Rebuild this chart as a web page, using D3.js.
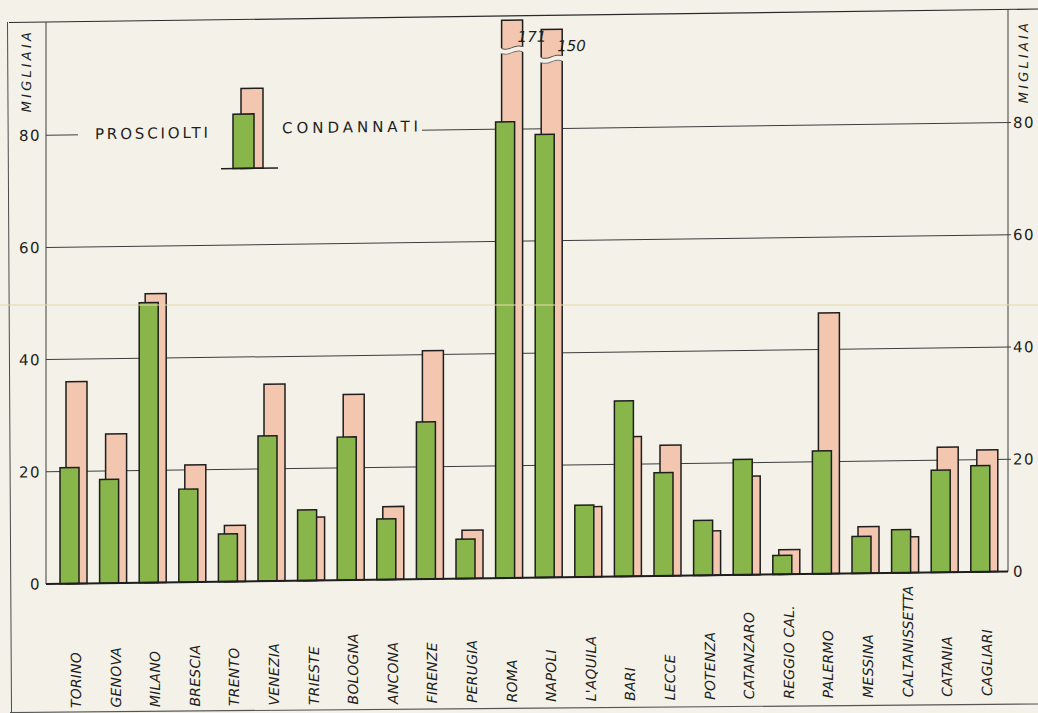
<!DOCTYPE html>
<html>
<head>
<meta charset="utf-8">
<script src="https://cdn.jsdelivr.net/npm/d3@7"></script>
<style>
  html, body { margin: 0; padding: 0; background: #f4f2e8; }
  svg { display: block; }
</style>
</head>
<body>
<svg id="chart" width="1038" height="713"></svg>
<script>
// Imputati prosciolti e condannati per distretto di corte d'appello (migliaia)
const cities = ["TORINO", "GENOVA", "MILANO", "BRESCIA", "TRENTO", "VENEZIA", "TRIESTE",
  "BOLOGNA", "ANCONA", "FIRENZE", "PERUGIA", "ROMA", "NAPOLI", "L'AQUILA", "BARI", "LECCE",
  "POTENZA", "CATANZARO", "REGGIO CAL.", "PALERMO", "MESSINA", "CALTANISSETTA", "CATANIA", "CAGLIARI"];
const prosciolti = [20.7, 18.5, 49.9, 16.6, 8.5, 25.9, 12.6, 25.5, 10.8, 28.0, 7.0, 81.3,
  79.0, 12.8, 31.3, 18.4, 9.8, 20.6, 3.4, 21.9, 6.6, 7.7, 18.2, 18.9];
const condannati = [36.0, 26.6, 51.5, 20.9, 10.0, 35.1, 11.3, 33.1, 13.0, 40.7, 8.6, 171,
  150, 12.5, 24.9, 23.3, 7.9, 17.6, 4.4, 46.5, 8.3, 6.4, 22.3, 21.7];
const yTicks = [0, 20, 40, 60, 80];
const unitLabel = "MIGLIAIA";
const legendLabels = ["PROSCIOLTI", "CONDANNATI"];

const W = 1038, H = 713;
const BG = "#f4f2e8", GREEN = "#89b64a", PINK = "#f3c6af", INK = "#1e1e1e", GRID = "#3c3c3c";

const svg = d3.select("#chart");
svg.append("rect").attr("width", W).attr("height", H).attr("fill", BG);

// the drawing sits on the sheet with a slight slope
const slope = -0.0131, pivotX = 46;
const g = svg.append("g")
  .attr("transform", `matrix(1,${slope},0,1,0,${-slope * pivotX})`);

const plotLeft = 46, plotRight = 1008, plotTop = 22;
const y = d3.scaleLinear().domain([0, 80]).range([584, 135.2]);
const x = d3.scaleBand().domain(cities).range([50, 50 + 24 * 39.6]);
// values beyond the frame are drawn on a compressed, broken stretch of the bar
const yOver = d3.scaleLinear().domain([100, 200]).range([93.6, 101.8]);
const shown = v => v > 100 ? yOver(v) : v;

const greenDx = 10, greenW = 19, pinkDx = 16, pinkW = 21;

// frame
g.append("line").attr("x1", 9).attr("x2", 1100).attr("y1", plotTop).attr("y2", plotTop)
  .attr("stroke", "#2a2a2a").attr("stroke-width", 1.2);
svg.append("line").attr("x1", 7.5).attr("y1", 22).attr("x2", 11.5).attr("y2", 713)
  .attr("stroke", "#4a4a4a").attr("stroke-width", 1);
svg.append("line").attr("x1", 10).attr("y1", 712.5).attr("x2", 1038).attr("y2", 704)
  .attr("stroke", "#555").attr("stroke-width", 1.2);

// axes
g.append("line").attr("x1", plotLeft).attr("x2", plotLeft).attr("y1", plotTop).attr("y2", y(0))
  .attr("stroke", GRID).attr("stroke-width", 1);
g.append("line").attr("x1", plotRight).attr("x2", plotRight).attr("y1", plotTop).attr("y2", y(0))
  .attr("stroke", GRID).attr("stroke-width", 1);

// grid lines
g.append("g").selectAll("line").data(yTicks.filter(d => d > 0)).join("line")
  .attr("x1", plotLeft).attr("x2", plotRight + 3)
  .attr("y1", d => y(d)).attr("y2", d => y(d))
  .attr("stroke", GRID).attr("stroke-width", 1);

// gap in the 80 line behind the legend
g.append("rect").attr("x", 78).attr("y", y(80) - 6).attr("width", 344).attr("height", 12).attr("fill", BG);

// tick labels, both sides
const tickFont = "'DejaVu Sans', sans-serif";
g.append("g").selectAll("text").data(yTicks).join("text")
  .attr("x", plotLeft - 5).attr("y", d => y(d)).attr("dy", "0.36em")
  .attr("text-anchor", "end").attr("font-family", tickFont).attr("font-size", 15)
  .attr("letter-spacing", 1.5).attr("fill", "#1e1e1e").text(d => d);
g.append("g").selectAll("text").data(yTicks).join("text")
  .attr("x", plotRight + 5).attr("y", d => y(d)).attr("dy", "0.36em")
  .attr("text-anchor", "start").attr("font-family", tickFont).attr("font-size", 15)
  .attr("letter-spacing", 1.5).attr("fill", "#1e1e1e").text(d => d);

// unit labels
[[26, 72], [1023, 76]].forEach(([ux, uy]) => {
  g.append("text")
    .attr("transform", `translate(${ux},${uy}) rotate(-90)`)
    .attr("text-anchor", "middle").attr("dy", "0.36em")
    .attr("font-family", tickFont).attr("font-style", "italic").attr("font-size", 13)
    .attr("textLength", 80).attr("lengthAdjust", "spacing")
    .attr("fill", "#1e1e1e").text(unitLabel);
});

// bars
const rows = cities.map((c, i) => ({ c, p: prosciolti[i], k: condannati[i] }));
const bars = g.append("g");

bars.selectAll("rect.cond").data(rows).join("rect").attr("class", "cond")
  .attr("x", d => x(d.c) + pinkDx).attr("width", pinkW)
  .attr("y", d => y(shown(d.k))).attr("height", d => y(0) - y(shown(d.k)))
  .attr("fill", PINK).attr("stroke", INK).attr("stroke-width", 1.5);

// breaks in the over-long bars
const broken = rows.filter(d => d.k > 100);
const wave = (x0, w, yy) => d3.range(0, 1.0001, 0.1)
  .map(t => [x0 - 2 + t * (w + 4), yy + 1.6 * Math.sin(t * 2 * Math.PI)]);
const waveLine = d3.line().curve(d3.curveBasis);
broken.forEach(d => {
  const bx = x(d.c) + pinkDx, yc = y(shown(d.k)) + 30;
  const upper = wave(bx, pinkW, yc - 2.5), lower = wave(bx, pinkW, yc + 2.5);
  const band = upper.concat(lower.slice().reverse());
  bars.append("path").attr("d", d3.line()(band) + "Z").attr("fill", BG);
  bars.append("path").attr("d", waveLine(upper.slice(1, -1))).attr("fill", "none")
    .attr("stroke", "#555").attr("stroke-width", 1);
  bars.append("path").attr("d", waveLine(lower.slice(1, -1))).attr("fill", "none")
    .attr("stroke", "#777").attr("stroke-width", 1);
  bars.append("text")
    .attr("x", bx + pinkW - 5).attr("y", y(shown(d.k)) + 22)
    .attr("font-family", tickFont).attr("font-style", "italic").attr("font-size", 15)
    .attr("fill", "#1e1e1e").text(d.k);
});

bars.selectAll("rect.pros").data(rows).join("rect").attr("class", "pros")
  .attr("x", d => x(d.c) + greenDx).attr("width", greenW)
  .attr("y", d => y(d.p)).attr("height", d => y(0) - y(d.p))
  .attr("fill", GREEN).attr("stroke", INK).attr("stroke-width", 1.5);

// baseline
g.append("line").attr("x1", plotLeft).attr("x2", plotRight).attr("y1", y(0)).attr("y2", y(0))
  .attr("stroke", INK).attr("stroke-width", 2);

// category labels
g.append("g").selectAll("text").data(cities).join("text")
  .attr("transform", d => `translate(${x(d) + 26},708.5) rotate(-90)`)
  .attr("dy", "0.36em").attr("text-anchor", "start")
  .attr("font-family", tickFont).attr("font-style", "italic").attr("font-size", 14)
  .attr("letter-spacing", 0.2).attr("fill", "#1e1e1e").text(d => d);

// legend
const lg = g.append("g");
lg.append("rect").attr("x", 241).attr("y", 91).attr("width", 22).attr("height", 80)
  .attr("fill", PINK).attr("stroke", INK).attr("stroke-width", 1.5);
lg.append("rect").attr("x", 233).attr("y", 116.6).attr("width", 21).attr("height", 54.4)
  .attr("fill", GREEN).attr("stroke", INK).attr("stroke-width", 1.5);
lg.append("line").attr("x1", 221).attr("x2", 278).attr("y1", 171).attr("y2", 171)
  .attr("stroke", INK).attr("stroke-width", 1.5);
lg.append("text").attr("x", 95).attr("y", 134.5).attr("dy", "0.36em")
  .attr("font-family", tickFont).attr("font-size", 15)
  .attr("textLength", 113).attr("lengthAdjust", "spacing")
  .attr("fill", "#1e1e1e").text(legendLabels[0]);
lg.append("text").attr("x", 282).attr("y", 131).attr("dy", "0.36em")
  .attr("font-family", tickFont).attr("font-size", 15)
  .attr("textLength", 136).attr("lengthAdjust", "spacing")
  .attr("fill", "#1e1e1e").text(legendLabels[1]);

// faint fold across the sheet
svg.append("line").attr("x1", 0).attr("x2", W).attr("y1", 305).attr("y2", 305)
  .attr("stroke", "#e6d8ad").attr("stroke-width", 1.5).attr("opacity", 0.7);
</script>
</body>
</html>
